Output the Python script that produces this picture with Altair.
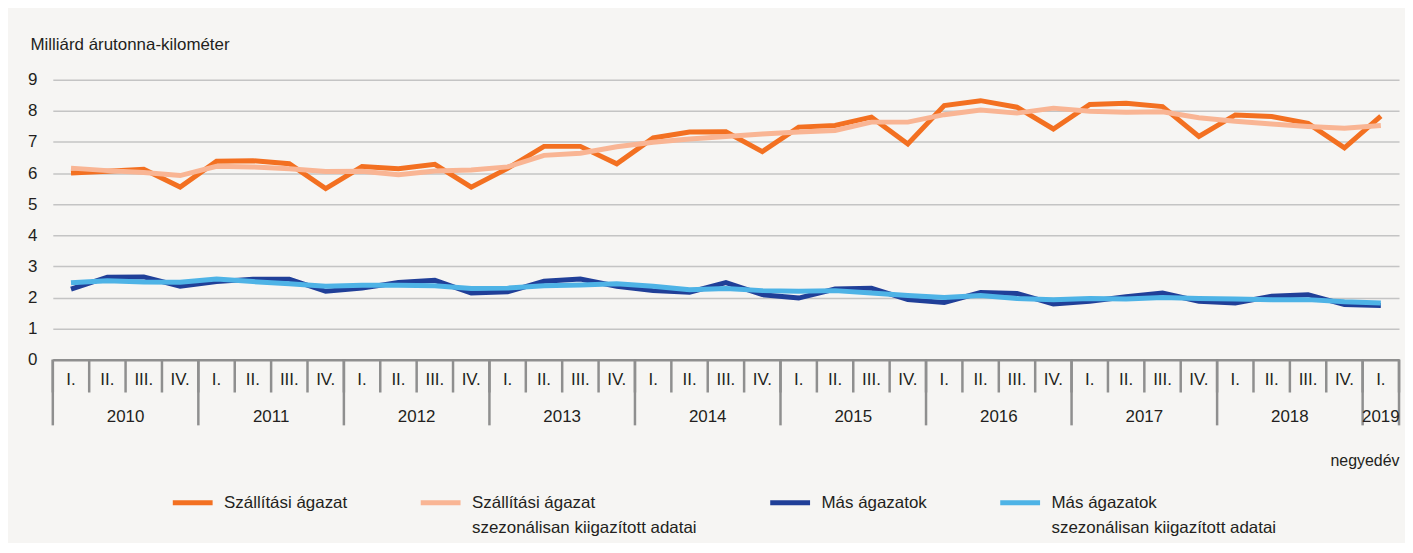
import json
import altair as alt
import pandas as pd

# ---------------- data ----------------
years = [2010, 2011, 2012, 2013, 2014, 2015, 2016, 2017, 2018, 2019]
quarters = ["I.", "II.", "III.", "IV."]
n_periods = 37

series_names = [
    "Szállítási ágazat",
    "Szállítási ágazat\nszezonálisan kiigazított adatai",
    "Más ágazatok",
    "Más ágazatok\nszezonálisan kiigazított adatai",
]
series_colors = ["#f37021", "#f9b594", "#203f98", "#4eb3e6"]

szallitasi = [6.00, 6.06, 6.12, 5.55, 6.38, 6.40, 6.30, 5.50, 6.21, 6.14, 6.28, 5.55,
              6.15, 6.86, 6.86, 6.30, 7.13, 7.32, 7.33, 6.69, 7.48, 7.53, 7.80, 6.94,
              8.17, 8.33, 8.12, 7.42, 8.21, 8.25, 8.14, 7.18, 7.87, 7.82, 7.60, 6.81,
              7.83]
szallitasi_sa = [6.16, 6.08, 6.02, 5.92, 6.22, 6.20, 6.14, 6.05, 6.06, 5.95, 6.07, 6.10,
                 6.20, 6.57, 6.64, 6.85, 6.99, 7.10, 7.18, 7.26, 7.32, 7.37, 7.64, 7.64,
                 7.88, 8.03, 7.93, 8.09, 7.99, 7.96, 7.97, 7.78, 7.67, 7.58, 7.50, 7.44,
                 7.53]
mas = [2.27, 2.65, 2.66, 2.36, 2.51, 2.59, 2.59, 2.20, 2.30, 2.48, 2.55, 2.14,
       2.18, 2.52, 2.59, 2.36, 2.22, 2.17, 2.48, 2.09, 1.98, 2.27, 2.30, 1.93,
       1.84, 2.16, 2.13, 1.79, 1.88, 2.02, 2.14, 1.88, 1.82, 2.04, 2.09, 1.77,
       1.74]
mas_sa = [2.47, 2.54, 2.50, 2.49, 2.59, 2.51, 2.44, 2.36, 2.39, 2.39, 2.38, 2.29,
          2.30, 2.38, 2.40, 2.44, 2.36, 2.25, 2.29, 2.22, 2.20, 2.22, 2.14, 2.06,
          2.00, 2.06, 1.97, 1.93, 1.97, 1.95, 2.00, 1.97, 1.95, 1.93, 1.93, 1.86,
          1.82]

y_title = "Milliárd árutonna-kilométer"
x_title = "negyedév"
y_ticks = [0, 1, 2, 3, 4, 5, 6, 7, 8, 9]

# ---------------- tables ----------------
periods = [(y, q) for y in years for q in quarters][:n_periods]
rows = []
for name, vals in zip(series_names, [szallitasi, szallitasi_sa, mas, mas_sa]):
    for i, v in enumerate(vals):
        rows.append({"idx": i, "year": periods[i][0], "quarter": periods[i][1],
                     "series": name, "value": v})
df = pd.DataFrame(rows)

quarter_df = df[df["series"] == series_names[0]][["idx", "year", "quarter"]]

sep_rows = []
for i, (yy, q) in enumerate(periods):
    sep_rows.append({"idx": i - 0.5, "kind": "year" if q == quarters[0] else "quarter"})
sep_rows.append({"idx": n_periods - 0.5, "kind": "year"})
seps = pd.DataFrame(sep_rows)

year_df = quarter_df.groupby("year", as_index=False)["idx"].mean()
year_df["label"] = year_df["year"].astype(str)

# ---------------- layout ----------------
W, H = 1352, 281
FONT = "Liberation Sans"
TXT = "#231f20"
AX = "#8f8f8f"

xscale = alt.Scale(domain=[-0.5, n_periods - 0.5], nice=False, zero=False)

legend_label_expr = ("length(split(datum.label, '\\n')) > 1 ? split(datum.label, '\\n') "
                     ": [datum.label, ' ']")

lines = alt.Chart(df).mark_line(strokeWidth=5, strokeJoin="miter").encode(
    x=alt.X("idx:Q", scale=xscale,
            axis=alt.Axis(labels=False, ticks=False, grid=False,
                          domainColor=AX, domainWidth=2.5,
                          title=x_title, titleX=W, titleY=101, titleAlign="right",
                          titleBaseline="middle", titleFontSize=16,
                          titleFontWeight="normal", titleColor=TXT)),
    y=alt.Y("value:Q", scale=alt.Scale(domain=[0, 9], nice=False),
            axis=alt.Axis(values=y_ticks, grid=True, gridColor="#c4c4c4", gridWidth=1.5,
                          domain=False, ticks=False, labelPadding=16, labelFontSize=17,
                          labelColor=TXT, title=y_title, titleAngle=0, titleAlign="left",
                          titleBaseline="middle", titleX=-23, titleY=-35,
                          titleFontSize=17, titleFontWeight="normal", titleColor=TXT)),
    color=alt.Color("series:N",
                    scale=alt.Scale(domain=series_names, range=series_colors),
                    legend=alt.Legend(orient="none", legendX=118, legendY=402,
                                      direction="horizontal", title=None,
                                      symbolType="stroke", symbolSize=1600,
                                      symbolStrokeWidth=5,
                                      labelExpr=legend_label_expr,
                                      labelFontSize=17, labelColor=TXT, labelLimit=400,
                                      labelOffset=9, columnPadding=63)),
)

quarter_text = alt.Chart(quarter_df).mark_text(fontSize=17, color=TXT, baseline="middle").encode(
    x=alt.X("idx:Q", scale=xscale),
    y=alt.value(H + 20),
    text="quarter:N",
)
quarter_seps = alt.Chart(seps).mark_rule(color=AX, strokeWidth=2.5).encode(
    x=alt.X("idx:Q", scale=xscale),
    y=alt.value(H), y2=alt.value(H + 33),
)
year_seps = alt.Chart(seps[seps["kind"] == "year"]).mark_rule(color=AX, strokeWidth=2.5).encode(
    x=alt.X("idx:Q", scale=xscale),
    y=alt.value(H), y2=alt.value(H + 66),
)
year_text = alt.Chart(year_df).mark_text(fontSize=17, color=TXT, baseline="middle").encode(
    x=alt.X("idx:Q", scale=xscale),
    y=alt.value(H + 58),
    text="label:N",
)

chart = (
    alt.layer(lines, quarter_seps, year_seps, quarter_text, year_text)
    .properties(width=W, height=H,
                padding={"left": 45, "top": 71, "right": 6, "bottom": 183},
                autosize=alt.AutoSizeParams(type="none"),
                background="#f6f5f3")
    .configure(font=FONT, style={"guide-label": {"lineHeight": 25}})
    .configure_view(stroke=None)
)

chart.save("out.html", embed_options={"renderer": "svg", "actions": False})
